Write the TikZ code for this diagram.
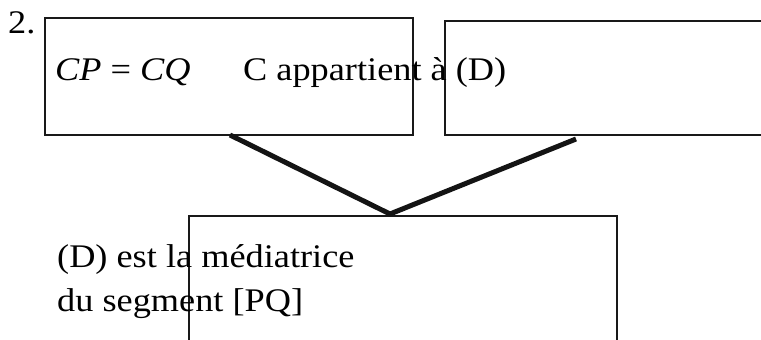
\documentclass[tikz,border=0pt]{standalone}
\usepackage{fontspec}
\setmainfont{Liberation Serif}[FakeStretch=1.1]
\begin{document}
\begin{tikzpicture}[x=1pt,y=-1pt,
  frame/.style={draw=black!90,line width=2pt,inner sep=0pt,outer sep=0pt,anchor=north west},
  link/.style={draw=black!92,line width=5pt},
  txt/.style={inner sep=0pt,anchor=base west,font=\fontsize{33}{40}\selectfont}]
\useasboundingbox (0,0) rectangle (761,340);
\clip (0,0) rectangle (761,340);
% the three frames
\node[frame,minimum width=368pt,minimum height=117pt] (b1) at (45,18) {};
\node[frame,minimum width=340pt,minimum height=114pt] (b2) at (445,21) {};
\node[frame,minimum width=428pt,minimum height=160pt] (b3) at (189,216) {};
% texts
\node[txt] (num) at (8,33) {2.};
\node[txt] (eq) at (55,80) {\textit{CP} = \textit{CQ}};
\node[txt] (app) at (243,80) {C appartient à (D)};
\node[txt] (l1) at (57,267) {(D) est la médiatrice};
\node[txt] (l2) at (57,311) {du segment [PQ]};
% connectors meeting on the lower frame
\coordinate (s1) at (230,135);
\coordinate (s2) at (576,139);
\coordinate (j) at (390,214);
\draw[link] (s1) -- (j) -- (s2);
\end{tikzpicture}
\end{document}
